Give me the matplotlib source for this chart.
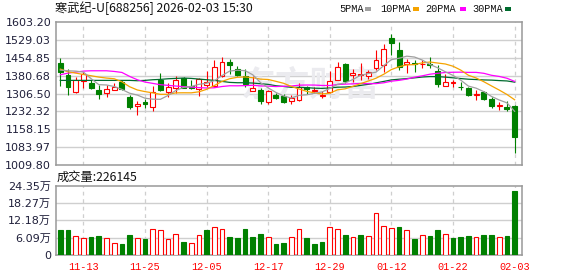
import numpy as np
import matplotlib.pyplot as plt
from matplotlib.patches import Rectangle

plt.rcParams['font.family'] = ['DejaVu Sans', 'Noto Sans CJK SC']

W, H = 578, 276

# daily OHLC (bars 0..59)
opens = [1432.4, 1384.3, 1312.7, 1356.7, 1351.2, 1319.6, 1309.9, 1322.3, 1354.0, 1290.6,
         1256.2, 1271.4, 1249.3, 1363.6, 1314.1, 1330.6, 1371.9, 1336.5, 1323.7, 1341.6,
         1337.4, 1378.8, 1438.0, 1409.0, 1377.4, 1318.2, 1320.9, 1271.4, 1300.3, 1294.8,
         1276.9, 1281.0, 1333.3, 1315.4, 1297.5, 1312.7, 1363.6, 1426.9, 1381.5, 1384.3,
         1377.4, 1411.8, 1425.6, 1538.5, 1488.9, 1428.3, 1432.4, 1426.9, 1429.7, 1399.4,
         1338.8, 1349.8, 1334.7, 1327.8, 1300.3, 1311.3, 1282.4, 1256.2, 1249.3, 1253.5]
highs = [1453.1, 1406.3, 1374.6, 1395.3, 1363.6, 1343.0, 1343.0, 1351.2, 1363.6, 1298.9,
         1274.1, 1285.1, 1338.8, 1391.1, 1348.5, 1380.2, 1374.6, 1360.9, 1370.5, 1398.0,
         1446.2, 1460.0, 1450.4, 1418.7, 1409.0, 1377.4, 1329.2, 1319.6, 1307.2, 1303.0,
         1298.9, 1351.2, 1338.8, 1333.3, 1318.2, 1399.4, 1438.0, 1433.8, 1406.3, 1431.1,
         1402.2, 1487.5, 1512.3, 1553.6, 1521.9, 1449.0, 1446.2, 1446.2, 1460.0, 1424.2,
         1388.4, 1363.6, 1352.6, 1333.3, 1319.6, 1315.4, 1293.4, 1272.8, 1274.1, 1257.6]
lows = [1337.5, 1300.3, 1308.5, 1329.2, 1326.4, 1283.8, 1292.0, 1319.6, 1322.3, 1242.5,
        1219.1, 1246.6, 1235.6, 1316.8, 1292.0, 1308.5, 1327.8, 1323.7, 1296.1, 1333.3,
        1333.3, 1374.6, 1385.6, 1378.8, 1333.3, 1316.8, 1264.5, 1263.1, 1285.1, 1268.6,
        1261.7, 1276.9, 1303.0, 1308.5, 1289.3, 1308.5, 1360.9, 1351.2, 1352.6, 1363.6,
        1365.0, 1404.9, 1395.3, 1465.5, 1402.2, 1392.5, 1393.9, 1411.8, 1413.2, 1333.3,
        1337.4, 1334.7, 1320.9, 1294.8, 1278.3, 1278.3, 1248.0, 1238.3, 1234.2, 1060.7]
closes = [1395.3, 1333.3, 1363.6, 1385.6, 1329.2, 1304.4, 1326.4, 1332.0, 1325.0, 1250.7,
          1265.0, 1263.0, 1312.7, 1322.3, 1332.0, 1363.6, 1328.5, 1330.0, 1365.0, 1354.0,
          1417.3, 1438.0, 1424.2, 1381.5, 1345.7, 1330.6, 1275.5, 1315.4, 1287.9, 1272.8,
          1286.5, 1332.0, 1326.4, 1319.6, 1300.3, 1359.5, 1417.3, 1356.7, 1389.8, 1387.0,
          1395.3, 1446.2, 1491.7, 1515.1, 1415.9, 1438.0, 1428.3, 1429.7, 1424.2, 1345.7,
          1355.4, 1352.6, 1332.0, 1300.3, 1303.0, 1282.4, 1253.5, 1259.0, 1241.1, 1126.8]

# volume in 万
volumes = [8.75, 8.75, 6.50, 5.80, 6.15, 6.62, 5.80, 4.02, 3.78, 6.86,
           5.80, 5.56, 8.99, 8.63, 5.44, 7.21, 4.49, 4.02, 6.86, 8.75,
           9.70, 8.99, 6.15, 5.80, 9.11, 6.15, 7.33, 6.15, 3.78, 4.14,
           6.15, 8.99, 5.80, 3.78, 4.49, 9.70, 8.99, 6.98, 6.15, 6.98,
           6.50, 14.78, 10.05, 9.34, 9.82, 8.63, 5.56, 6.86, 6.62, 8.75,
           7.21, 5.91, 6.27, 6.62, 6.15, 6.98, 6.98, 6.15, 6.62, 22.6145]

# moving averages as shown
ma5 = [1403.5, 1400.8, 1399.4, 1395.3, 1368.0, 1343.2, 1341.8, 1335.5, 1323.4, 1307.7,
       1300.0, 1287.0, 1282.9, 1282.4, 1298.6, 1319.0, 1332.0, 1335.6, 1344.6, 1349.0,
       1359.8, 1380.7, 1399.7, 1403.0, 1401.3, 1384.0, 1351.5, 1329.7, 1311.0, 1296.4,
       1287.6, 1298.9, 1301.1, 1307.5, 1313.0, 1327.6, 1344.6, 1350.7, 1364.7, 1382.1,
       1389.2, 1395.0, 1422.0, 1447.1, 1452.8, 1461.4, 1457.8, 1445.4, 1427.2, 1413.2,
       1396.7, 1381.5, 1362.0, 1337.2, 1328.7, 1314.1, 1294.2, 1279.6, 1267.8, 1232.6]
ma10 = [1407.7, 1396.7, 1391.1, 1385.6, 1380.1, 1374.6, 1370.5, 1367.7, 1355.0, 1334.6,
        1321.2, 1314.3, 1309.2, 1302.9, 1303.2, 1309.1, 1309.5, 1309.3, 1313.5, 1323.8,
        1339.4, 1356.7, 1367.9, 1373.8, 1375.2, 1371.9, 1366.1, 1364.7, 1357.0, 1348.9,
        1335.8, 1325.2, 1315.4, 1309.2, 1304.7, 1307.6, 1321.8, 1325.9, 1336.1, 1347.5,
        1358.4, 1369.8, 1386.3, 1405.9, 1417.5, 1425.3, 1426.4, 1433.7, 1437.1, 1433.0,
        1429.0, 1419.7, 1403.7, 1382.2, 1370.9, 1355.4, 1337.9, 1320.8, 1302.5, 1280.6]
ma20 = [1384.3, 1391.1, 1395.3, 1399.4, 1400.8, 1400.8, 1400.8, 1398.0, 1393.9, 1377.4,
        1363.6, 1354.0, 1348.5, 1343.0, 1340.2, 1337.5, 1335.0, 1333.0, 1331.0, 1329.2,
        1330.3, 1335.5, 1338.6, 1338.4, 1339.2, 1340.5, 1337.9, 1337.1, 1335.3, 1336.4,
        1337.6, 1341.0, 1341.7, 1341.5, 1339.9, 1339.7, 1343.9, 1345.3, 1346.6, 1348.2,
        1347.1, 1347.5, 1350.9, 1357.6, 1361.1, 1366.4, 1374.1, 1379.8, 1386.6, 1390.3,
        1393.7, 1394.7, 1395.0, 1394.1, 1394.2, 1390.3, 1382.1, 1377.3, 1369.8, 1356.8]
ma30 = [1360.9, 1360.9, 1360.9, 1360.9, 1360.9, 1360.9, 1360.9, 1360.9, 1360.9, 1360.9,
        1359.5, 1360.9, 1363.6, 1365.0, 1367.7, 1369.1, 1370.5, 1369.1, 1366.4, 1363.6,
        1360.9, 1356.7, 1352.6, 1351.2, 1351.2, 1349.8, 1347.1, 1344.3, 1338.8, 1335.8,
        1332.1, 1332.1, 1330.8, 1328.6, 1327.7, 1329.5, 1332.6, 1333.4, 1335.5, 1340.1,
        1344.5, 1350.6, 1356.6, 1363.0, 1365.8, 1368.3, 1371.4, 1374.8, 1376.7, 1376.5,
        1374.4, 1371.6, 1368.5, 1365.8, 1364.4, 1362.8, 1362.0, 1360.1, 1358.6, 1353.7]

price_ticks = [1009.80, 1083.97, 1158.15, 1232.32, 1306.50, 1380.68, 1454.85, 1529.03, 1603.20]
vol_ticks = [0, 6.09, 12.18, 18.27, 24.35]
vol_labels = ['0', '6.09万', '12.18万', '18.27万', '24.35万']
date_pos = [3, 11, 19, 27, 35, 43, 51, 59]
date_labels = ['11-13', '11-25', '12-05', '12-17', '12-29', '01-12', '01-22', '02-03']

UP = '#ff0000'
DOWN = '#008000'
GRID = '#cfcfcf'
LBL = '#1f1f3a'

o = np.array(opens); h = np.array(highs); l = np.array(lows); c = np.array(closes)
x = np.arange(len(c))


def fx(px):
    return px / W


def fy(py):
    return 1 - py / H


fig = plt.figure(figsize=(W / 100, H / 100), dpi=100)
fig.patch.set_facecolor('white')

ax = fig.add_axes([fx(56), fy(165), fx(522) - fx(56), fy(22) - fy(165)])
axv = fig.add_axes([fx(56), fy(254.7), fx(522) - fx(56), fy(186) - fy(254.7)])

for a in (ax, axv):
    a.set_xlim(-0.56, 59.96)
    for s in a.spines.values():
        s.set_color('#999999')
        s.set_linewidth(1.1)
    a.tick_params(length=0)
    for p in date_pos:
        a.axvline(p, color=GRID, lw=0.9, ls=(0, (3, 3)), zorder=0)

# price panel
ax.set_ylim(price_ticks[0], price_ticks[-1])
ax.set_yticks(price_ticks)
ax.set_yticklabels(['%.2f' % v for v in price_ticks], fontsize=8, color=LBL)
ax.set_xticks([])
for v in price_ticks[1:-1]:
    ax.axhline(v, color=GRID, lw=1.0, zorder=0)

# watermark
ax.text(0.545, 0.56, '东方财富', transform=ax.transAxes, ha='center', va='center',
        fontsize=25, fontweight='bold', color='#ebebef', family=['Noto Sans CJK SC'], zorder=0.5)

bw = 0.64
up = c >= o
for i in x:
    col = UP if up[i] else DOWN
    top, bot = max(o[i], c[i]), min(o[i], c[i])
    ax.vlines(i, top, h[i], color=col, lw=0.8, zorder=2)
    ax.vlines(i, l[i], bot, color=col, lw=0.8, zorder=2)
    if up[i]:
        ax.add_patch(Rectangle((i - bw / 2, bot), bw, max(top - bot, 0.5), facecolor='white',
                               edgecolor=UP, lw=0.8, zorder=3))
    else:
        ax.add_patch(Rectangle((i - bw / 2, bot), bw, max(top - bot, 0.5), facecolor=DOWN,
                               edgecolor=DOWN, lw=0.8, zorder=3))

ax.plot(x, ma30, color='#006b2e', lw=0.9, zorder=4)
ax.plot(x, ma20, color='#ff00ff', lw=0.9, zorder=4)
ax.plot(x, ma10, color='#f5a300', lw=0.9, zorder=4)
ax.plot(x, ma5, color='#a0a0a0', lw=0.9, zorder=4)

# volume panel
axv.set_ylim(0, vol_ticks[-1])
axv.set_yticks(vol_ticks)
axv.set_yticklabels(vol_labels, fontsize=8, color=LBL)
for v in vol_ticks[1:-1]:
    axv.axhline(v, color=GRID, lw=1.0, zorder=0)
vol_up = np.r_[c[0] >= o[0], c[1:] >= c[:-1]]
vb = 0.62
for i in x:
    if vol_up[i]:
        axv.add_patch(Rectangle((i - vb / 2, 0), vb, volumes[i], facecolor='white',
                                edgecolor=UP, lw=0.8, zorder=3))
    else:
        axv.add_patch(Rectangle((i - vb / 2, 0), vb, volumes[i], facecolor=DOWN,
                                edgecolor=DOWN, lw=0.8, zorder=3))
axv.set_xticks(date_pos)
axv.set_xticklabels(date_labels, fontsize=7.3, color='#ff0000', family=['Liberation Mono'])
axv.tick_params(axis='x', pad=5)

# header texts
fig.text(fx(55), fy(8), '寒武纪-U[688256] 2026-02-03 15:30', ha='left', va='center',
         fontsize=8.8, color='#111111', family=['Noto Sans CJK SC', 'DejaVu Sans'])
fig.text(fx(57), fy(177), '成交量:226145', ha='left', va='center',
         fontsize=8.8, color='#111111', family=['Noto Sans CJK SC', 'DejaVu Sans'])

legend = [('5PMA', '#a0a0a0', 339, 365), ('10PMA', '#f5a300', 380, 413),
          ('20PMA', '#ff00ff', 425, 460), ('30PMA', '#006b2e', 472, 505)]
for name, col, tx, sx in legend:
    fig.text(fx(tx), fy(9), name, ha='left', va='center', fontsize=7.4,
             color='#111111', family=['Liberation Mono'])
    fig.patches.append(Rectangle((fx(sx), fy(10.5)), fx(5.5), fy(7) - fy(10.5),
                                 transform=fig.transFigure, facecolor=col, edgecolor='none'))

fig.savefig('out.png', dpi=100)
